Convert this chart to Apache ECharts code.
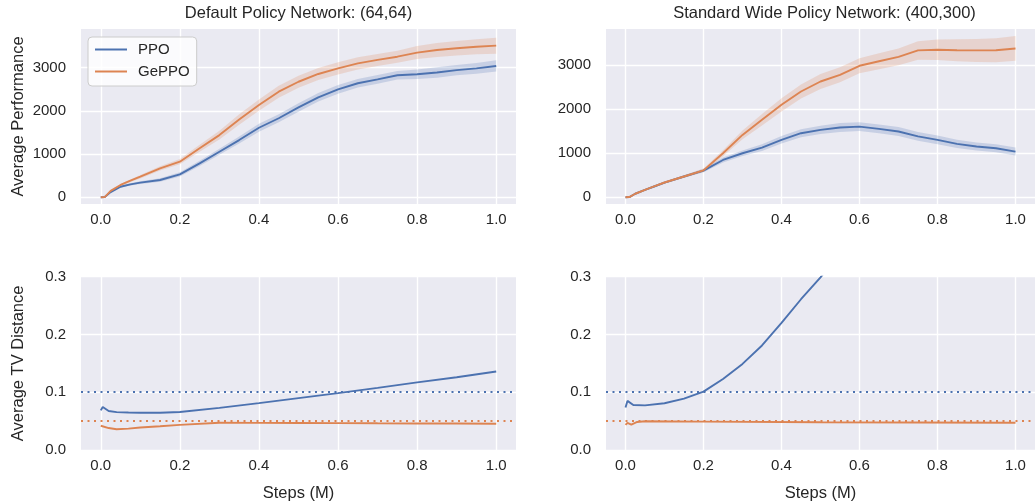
<!DOCTYPE html>
<html>
<head>
<meta charset="utf-8">
<script src="https://cdn.jsdelivr.net/npm/echarts@6/dist/echarts.min.js"></script>
<style>
html,body{margin:0;padding:0;background:#fff;}
#chart{width:1035px;height:503px;}
</style>
</head>
<body>
<div id="chart"></div>
<script>
// ---------------- data ----------------
const seriesNames = ['PPO', 'GePPO'];
const titles = ['Default Policy Network: (64,64)', 'Standard Wide Policy Network: (400,300)'];
const xTickValues = [0, 0.2, 0.4, 0.6, 0.8, 1.0];
const perfTickValues = [0, 1000, 2000, 3000];
const tvTickValues = [0, 0.1, 0.2, 0.3];

// Top panels: steps (M)
const xTop = [0, 0.01, 0.025, 0.05, 0.075, 0.1, 0.15, 0.2, 0.25, 0.3, 0.35, 0.4, 0.45, 0.5, 0.55, 0.6, 0.65, 0.7, 0.75, 0.8, 0.85, 0.9, 0.95, 1.0];

// Default (64,64) performance
const perfDefaultPPO    = [0, 5, 120, 245, 300, 340, 400, 530, 785, 1055, 1325, 1610, 1830, 2080, 2315, 2500, 2640, 2730, 2825, 2850, 2890, 2945, 2985, 3040];
const perfDefaultPPOSpread = [0, 0, 10, 20, 25, 30, 40, 50, 60, 70, 80, 90, 95, 100, 100, 100, 100, 100, 100, 110, 120, 120, 125, 130];
const perfDefaultGePPO  = [0, 5, 150, 285, 385, 477, 670, 825, 1135, 1440, 1800, 2135, 2445, 2675, 2855, 2985, 3100, 3180, 3255, 3350, 3410, 3450, 3485, 3510];
const perfDefaultGePPOSpread = [0, 0, 15, 25, 30, 40, 50, 60, 80, 100, 120, 130, 140, 140, 140, 140, 140, 140, 140, 150, 160, 170, 175, 185];

// Wide (400,300) performance
const perfWidePPO    = [0, 5, 80, 166, 250, 333, 470, 605, 845, 997, 1125, 1300, 1451, 1526, 1580, 1600, 1550, 1490, 1380, 1300, 1210, 1150, 1110, 1035];
const perfWidePPOSpread = [0, 0, 10, 15, 20, 25, 30, 40, 55, 65, 75, 85, 90, 95, 100, 100, 100, 100, 100, 100, 95, 90, 90, 90];
const perfWideGePPO  = [0, 5, 80, 170, 255, 335, 470, 610, 997, 1412, 1753, 2093, 2395, 2621, 2772, 2977, 3080, 3180, 3325, 3340, 3330, 3325, 3330, 3370];
const perfWideGePPOSpread = [0, 0, 10, 15, 20, 25, 30, 40, 70, 100, 130, 150, 160, 170, 170, 170, 180, 190, 210, 230, 250, 260, 270, 280];

// Default (64,64) TV distance
const xTvDefaultPPO = [0, 0.005, 0.02, 0.04, 0.07, 0.1, 0.15, 0.2, 0.3, 0.4, 0.5, 0.6, 0.7, 0.8, 0.9, 1.0];
const tvDefaultPPO  = [0.0686, 0.0744, 0.0675, 0.0655, 0.0648, 0.0645, 0.0646, 0.0658, 0.0730, 0.0812, 0.0898, 0.0985, 0.1075, 0.117, 0.126, 0.136];
const xTvDefaultGePPO = [0, 0.005, 0.02, 0.04, 0.07, 0.1, 0.15, 0.2, 0.3, 0.4, 0.5, 0.6, 0.7, 0.8, 0.9, 1.0];
const tvDefaultGePPO  = [0.042, 0.0445, 0.038, 0.036, 0.037, 0.039, 0.041, 0.0435, 0.0472, 0.047, 0.0468, 0.0465, 0.0462, 0.046, 0.0458, 0.0455];

// Wide (400,300) TV distance
const xTvWidePPO = [0, 0.005, 0.02, 0.05, 0.1, 0.15, 0.2, 0.25, 0.3, 0.35, 0.4, 0.45, 0.5, 0.55];
const tvWidePPO  = [0.0735, 0.085, 0.078, 0.0772, 0.081, 0.089, 0.101, 0.123, 0.149, 0.181, 0.220, 0.261, 0.299, 0.34];
const xTvWideGePPO = [0, 0.005, 0.015, 0.03, 0.05, 0.2, 0.5, 1.0];
const tvWideGePPO  = [0.0435, 0.047, 0.044, 0.0485, 0.0497, 0.0492, 0.048, 0.0472];

// TV distance reference levels
const tvLimitPPO = 0.1;
const tvLimitGePPO = 0.05;

// ---------------- styling ----------------
const BLUE = '#4C72B0', ORANGE = '#DD8452';
const BLUE_BAND = 'rgba(76,114,176,0.22)', ORANGE_BAND = 'rgba(221,132,82,0.22)';
const TXT = '#262626';
const FONT = "'Liberation Sans', Arial, sans-serif";
const BG = '#EAEAF2';

const grids = [
  {left: 81, top: 29, width: 435, height: 175},
  {left: 606, top: 29, width: 437, height: 175},
  {left: 81, top: 276.7, width: 435, height: 175},
  {left: 606, top: 276.7, width: 437, height: 175}
].map(g => Object.assign({show: true, backgroundColor: BG, borderWidth: 0, containLabel: false}, g));

function xAxisFor(i, withName) {
  return {
    type: 'value', gridIndex: i, min: -0.05, max: 1.05,
    axisLine: {show: false},
    axisTick: {show: false, customValues: xTickValues},
    axisLabel: {customValues: xTickValues, formatter: v => v.toFixed(1), color: TXT, fontSize: 15, fontFamily: FONT, margin: 8},
    splitLine: {show: true, lineStyle: {color: '#fff', width: 1.4}},
    name: withName ? 'Steps (M)' : '', nameLocation: 'middle', nameGap: 35,
    nameTextStyle: {color: TXT, fontSize: 16.5, fontFamily: FONT}
  };
}
function yAxisFor(i, min, max, ticks, fmt, name) {
  return {
    type: 'value', gridIndex: i, min: min, max: max,
    axisLine: {show: false},
    axisTick: {show: false, customValues: ticks},
    axisLabel: {customValues: ticks, formatter: fmt, color: TXT, fontSize: 15, fontFamily: FONT, margin: 15},
    splitLine: {show: true, lineStyle: {color: '#fff', width: 1.4}},
    name: name || '', nameLocation: 'middle', nameGap: 54, nameRotate: 90,
    nameTextStyle: {color: TXT, fontSize: 16.5, fontFamily: FONT}
  };
}

function pairs(xs, ys) { return xs.map((x, k) => [x, ys[k]]); }

// Confidence band drawn as one polygon through the axis scales
function bandSeries(idx, xs, mean, spread, color) {
  const rows = xs.map((x, k) => [x, mean[k] - spread[k], mean[k] + spread[k]]);
  return {
    type: 'custom', xAxisIndex: idx, yAxisIndex: idx, silent: true, z: 1, clip: true,
    data: rows, encode: {x: 0, y: [1, 2]},
    renderItem: function (params, api) {
      if (params.dataIndex !== 0) return null;
      const upper = rows.map(r => api.coord([r[0], r[2]]));
      const lower = rows.map(r => api.coord([r[0], r[1]])).reverse();
      return {type: 'polygon', shape: {points: upper.concat(lower)}, style: {fill: color, stroke: null}};
    }
  };
}
function lineSeries(idx, name, xs, ys, color, extra) {
  return Object.assign({type: 'line', name: name, xAxisIndex: idx, yAxisIndex: idx, data: pairs(xs, ys),
    symbol: 'none', showSymbol: false, lineStyle: {color: color, width: 1.9}, itemStyle: {color: color}, z: 3, clip: true}, extra || {});
}
function refLines() {
  return {
    silent: true, symbol: 'none', label: {show: false},
    data: [
      {yAxis: tvLimitPPO, lineStyle: {color: BLUE, type: [2, 4.5], width: 2}},
      {yAxis: tvLimitGePPO, lineStyle: {color: ORANGE, type: [2, 4.5], width: 2}}
    ]
  };
}

const series = [
  bandSeries(0, xTop, perfDefaultPPO, perfDefaultPPOSpread, BLUE_BAND),
  bandSeries(0, xTop, perfDefaultGePPO, perfDefaultGePPOSpread, ORANGE_BAND),
  bandSeries(1, xTop, perfWidePPO, perfWidePPOSpread, BLUE_BAND),
  bandSeries(1, xTop, perfWideGePPO, perfWideGePPOSpread, ORANGE_BAND),
  lineSeries(0, seriesNames[0], xTop, perfDefaultPPO, BLUE),
  lineSeries(0, seriesNames[1], xTop, perfDefaultGePPO, ORANGE),
  lineSeries(1, seriesNames[0], xTop, perfWidePPO, BLUE),
  lineSeries(1, seriesNames[1], xTop, perfWideGePPO, ORANGE),
  lineSeries(2, seriesNames[0], xTvDefaultPPO, tvDefaultPPO, BLUE, {markLine: refLines()}),
  lineSeries(2, seriesNames[1], xTvDefaultGePPO, tvDefaultGePPO, ORANGE),
  lineSeries(3, seriesNames[0], xTvWidePPO, tvWidePPO, BLUE, {markLine: refLines()}),
  lineSeries(3, seriesNames[1], xTvWideGePPO, tvWideGePPO, ORANGE)
];

const option = {
  animation: false,
  backgroundColor: '#fff',
  textStyle: {fontFamily: FONT},
  title: [
    {text: titles[0], left: 298.5, top: 5, textAlign: 'center', padding: 0,
     textStyle: {color: TXT, fontSize: 16.5, fontWeight: 'normal', fontFamily: FONT}},
    {text: titles[1], left: 824.5, top: 5, textAlign: 'center', padding: 0,
     textStyle: {color: TXT, fontSize: 16.5, fontWeight: 'normal', fontFamily: FONT}}
  ],
  legend: {
    data: seriesNames, orient: 'vertical', left: 88, top: 37,
    padding: [5, 7, 7, 6], itemWidth: 32, itemHeight: 14, itemGap: 7,
    itemStyle: {opacity: 0, borderWidth: 0},
    lineStyle: {width: 2},
    backgroundColor: 'rgba(255,255,255,0.8)', borderColor: '#CCCCCC', borderWidth: 1, borderRadius: 4,
    textStyle: {color: TXT, fontSize: 15, fontFamily: FONT, padding: [0, 0, 0, 6], lineHeight: 14},
    selectedMode: false
  },
  grid: grids,
  xAxis: [xAxisFor(0, false), xAxisFor(1, false), xAxisFor(2, true), xAxisFor(3, true)],
  yAxis: [
    yAxisFor(0, -155, 3896, perfTickValues, v => String(v), 'Average Performance'),
    yAxisFor(1, -152, 3810, perfTickValues, v => String(v), ''),
    yAxisFor(2, 0, 0.3, tvTickValues, v => v.toFixed(1), 'Average TV Distance'),
    yAxisFor(3, 0, 0.3, tvTickValues, v => v.toFixed(1), '')
  ],
  series: series
};

const chart = echarts.init(document.getElementById('chart'), null, {renderer: 'canvas'});
chart.setOption(option);
</script>
</body>
</html>
